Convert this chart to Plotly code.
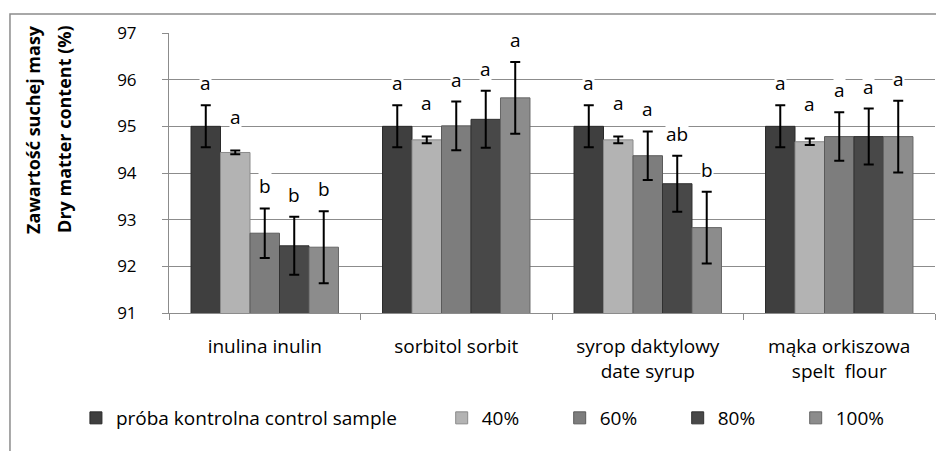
import plotly.graph_objects as go

categories = ["inulina inulin", "sorbitol sorbit", "syrop daktylowy<br>date syrup", "mąka orkiszowa<br>spelt  flour"]
series_names = ["próba kontrolna control sample", "40%", "60%", "80%", "100%"]

control = [95.0, 95.0, 95.0, 95.0]
p40 = [94.44, 94.71, 94.71, 94.67]
p60 = [92.71, 95.01, 94.37, 94.78]
p80 = [92.44, 95.15, 93.77, 94.78]
p100 = [92.41, 95.61, 92.83, 94.78]

err_control = [0.45, 0.45, 0.45, 0.45]
err_p40 = [0.04, 0.07, 0.07, 0.07]
err_p60 = [0.53, 0.52, 0.52, 0.52]
err_p80 = [0.62, 0.61, 0.60, 0.60]
err_p100 = [0.77, 0.77, 0.77, 0.77]

letters_control = ["a", "a", "a", "a"]
letters_p40 = ["a", "a", "a", "a"]
letters_p60 = ["b", "a", "a", "a"]
letters_p80 = ["b", "a", "ab", "a"]
letters_p100 = ["b", "a", "b", "a"]

values = [control, p40, p60, p80, p100]
errors = [err_control, err_p40, err_p60, err_p80, err_p100]
letters = [letters_control, letters_p40, letters_p60, letters_p80, letters_p100]
colors = ["#3f3f3f", "#b3b3b3", "#7d7d7d", "#484848", "#8c8c8c"]
line_colors = ["#2a2a2a", "#8a8a8a", "#5a5a5a", "#303030", "#666666"]
legend_ids = ["legend", "legend2", "legend2", "legend2", "legend2"]

FONT = "'Open Sans', sans-serif"
BARGAP = 0.23

fig = go.Figure()
for i in range(5):
    fig.add_trace(go.Bar(
        x=categories, y=values[i], name=series_names[i],
        marker=dict(color=colors[i], line=dict(color=line_colors[i], width=1)),
        error_y=dict(type="data", array=errors[i], visible=True, color="#000000", thickness=2, width=5),
        legend=legend_ids[i],
    ))

bw = (1 - BARGAP) / 5
annotations = []
for i in range(5):
    for c in range(4):
        annotations.append(dict(
            x=c + (i - 2) * bw, y=values[i][c] + errors[i][c], xref="x", yref="y",
            text=letters[i][c], showarrow=False, yanchor="middle", xanchor="center",
            yshift=34 if i == 1 else 22,
            font=dict(family=FONT, size=19, color="#000000"),
            bgcolor="#ffffff", borderpad=0,
        ))

annotations.append(dict(x=-0.1775, y=0.654, xref="paper", yref="paper", text="<b>Zawartość suchej masy</b>",
                        xanchor="center", yanchor="middle",
                        textangle=-90, showarrow=False, font=dict(family=FONT, size=18, color="#000000")))
annotations.append(dict(x=-0.137, y=0.654, xref="paper", yref="paper", text="<b>Dry matter content (%)</b>",
                        xanchor="center", yanchor="middle",
                        textangle=-90, showarrow=False, font=dict(family=FONT, size=18, color="#000000")))

fig.update_layout(
    width=944, height=451,
    margin=dict(l=161, r=17, t=25, b=146, autoexpand=False),
    paper_bgcolor="#ffffff", plot_bgcolor="#ffffff",
    barmode="group", bargap=BARGAP, bargroupgap=0,
    font=dict(family=FONT, size=18, color="#000000"),
    annotations=annotations,
    showlegend=True,
    legend=dict(orientation="h", x=-0.1215, y=-0.375, xanchor="left", yanchor="middle",
                font=dict(family=FONT, size=19, color="#000000"), bgcolor="rgba(0,0,0,0)"),
    legend2=dict(orientation="h", x=0.356, y=-0.375, xanchor="left", yanchor="middle",
                 entrywidth=73, entrywidthmode="pixels",
                 font=dict(family=FONT, size=19, color="#000000"), bgcolor="rgba(0,0,0,0)"),
    shapes=[dict(type="rect", xref="paper", yref="paper", x0=-0.2076, x1=1.03, y0=-0.6, y1=1.068,
                 line=dict(color="#8c8c8c", width=1.5), layer="below")],
)
fig.update_xaxes(
    type="category", showgrid=False, showline=True, linecolor="#8c8c8c", linewidth=1,
    ticks="outside", tickson="boundaries", ticklen=6, tickcolor="#8c8c8c",
    ticklabelstandoff=16, tickfont=dict(family=FONT, size=19, color="#000000"),
)
fig.update_yaxes(
    range=[91, 97], dtick=1, showgrid=True, gridcolor="#8c8c8c", gridwidth=1,
    showline=True, linecolor="#8c8c8c", linewidth=1, ticks="outside", ticklen=6,
    tickcolor="#8c8c8c", tickfont=dict(family=FONT, size=17, color="#000000"),
    ticklabelstandoff=22, zeroline=False,
)

fig.write_html("out.html")
